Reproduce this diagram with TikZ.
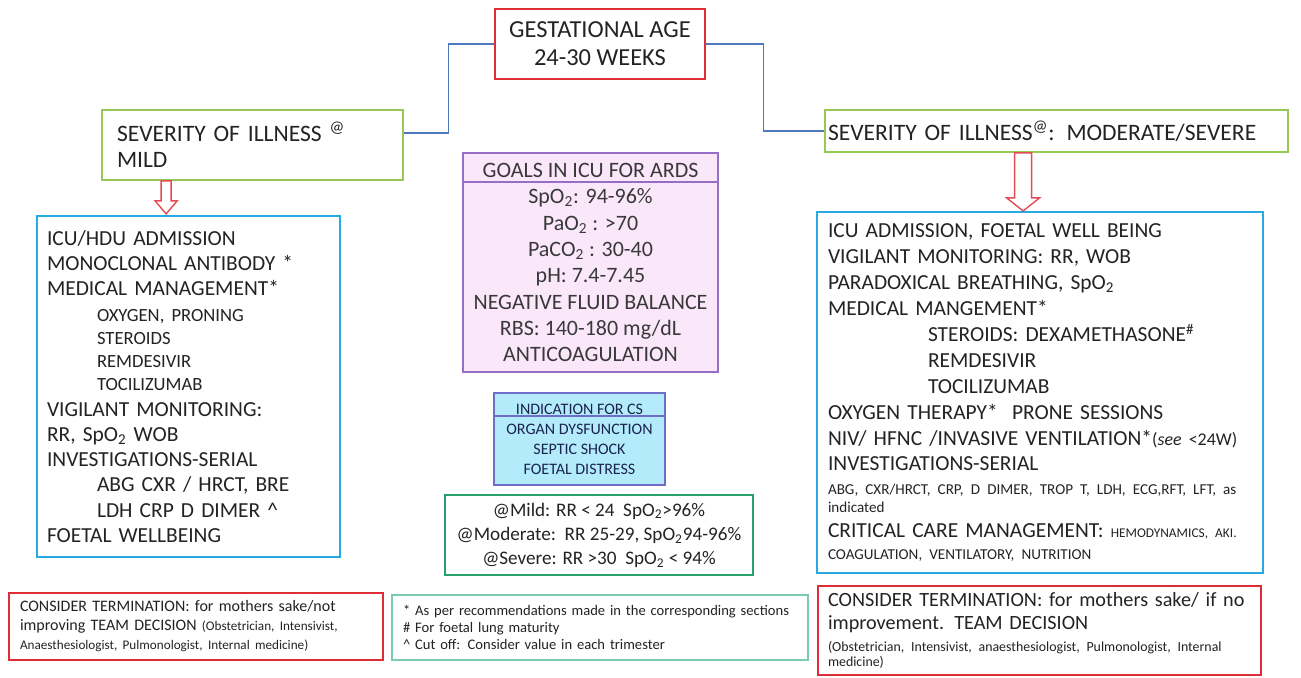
\documentclass[tikz,border=0pt]{standalone}
\usepackage{fontspec}
\setmainfont{Carlito}
\usepackage{tikz}
\usetikzlibrary{positioning, calc}

\definecolor{boxred}{RGB}{222,45,55}
\definecolor{boxlime}{RGB}{150,200,85}
\definecolor{boxblue}{RGB}{40,170,225}
\definecolor{linkblue}{RGB}{80,120,190}
\definecolor{goalfill}{RGB}{250,232,250}
\definecolor{goaldraw}{RGB}{150,110,200}
\definecolor{csfill}{RGB}{180,235,250}
\definecolor{csdraw}{RGB}{110,110,200}
\definecolor{cstext}{RGB}{25,35,80}
\definecolor{keygreen}{RGB}{40,160,110}
\definecolor{notegreen}{RGB}{120,205,170}
\definecolor{txt}{RGB}{35,35,35}

\newcommand{\fsSub}{\fontsize{10.6}{14.4}\selectfont}
\newcommand{\fsSmall}{\fontsize{10.2}{14.8}\selectfont}
\newcommand{\fsTiny}{\fontsize{8.6}{14.8}\selectfont}
\newcommand{\fsCaps}{\fontsize{7.6}{14.8}\selectfont}
\newcommand{\fsNote}{\fontsize{7.5}{10.8}\selectfont}
\newcommand{\fsNoteR}{\fontsize{7.9}{13}\selectfont}

\tikzset{
  titlebox/.style={rectangle, draw=boxred, line width=1.2pt, minimum width=4.2cm, minimum height=1.4cm,
                   align=center, text=txt, font=\fontsize{13.9}{16}\selectfont},
  sevbox/.style={rectangle, draw=boxlime, line width=1pt, align=left, text=txt,
                 font=\fontsize{13.4}{14.8}\selectfont},
  carebox/.style={rectangle, draw=boxblue, line width=1.3pt, align=left, text=txt},
  goalbox/.style={rectangle, draw=goaldraw, fill=goalfill, line width=1pt, minimum width=5.1cm, minimum height=4.38cm,
                  align=center, text=txt!90, font=\fontsize{12.5}{15}\selectfont},
  csbox/.style={rectangle, draw=csdraw, fill=csfill, line width=1pt, minimum width=3.42cm, minimum height=1.84cm,
                align=center, text=cstext, font=\fontsize{9.1}{11.4}\selectfont},
  keybox/.style={rectangle, draw=keygreen, line width=1.2pt, minimum width=6.16cm, minimum height=1.6cm,
                 align=center, text=txt, font=\fontsize{10.9}{13.7}\selectfont},
  termbox/.style={rectangle, draw=boxred, line width=1.2pt, align=left, text=txt},
  notebox/.style={rectangle, draw=notegreen, line width=1.2pt, align=left, text=txt,
                  font=\fontsize{8.3}{9.7}\selectfont},
  conn/.style={draw=linkblue, line width=0.6pt},
  hollow/.style={draw=boxred!85, fill=white, line width=0.8pt, line join=miter}
}

\begin{document}
\begin{tikzpicture}

  \fill[white] (0,0) rectangle (26.02,-13.54);
  \useasboundingbox (0,0) rectangle (26.02,-13.54);

  \node (gest) [titlebox] at (12.0,-0.88) {GESTATIONAL AGE\\24-30 WEEKS};

  \node (mild) [sevbox, minimum width=6.02cm, minimum height=1.4cm, inner xsep=0.3cm, text width=5.42cm]
    at (5.05,-2.9) {SEVERITY OF ILLNESS \textsuperscript{@}\\MILD};
  \node (mod) [sevbox, minimum width=9.26cm, minimum height=0.84cm, inner xsep=0.06cm, text width=9.14cm]
    at (21.13,-2.62) {SEVERITY OF ILLNESS\textsuperscript{@}: MODERATE/SEVERE};

  \node (mildcare) [carebox, minimum width=6.06cm, minimum height=6.82cm, inner xsep=0.2cm, text width=5.66cm,
    font=\fontsize{12.2}{14.4}\selectfont] at (3.77,-7.73) {%
    ICU/HDU ADMISSION\\
    MONOCLONAL ANTIBODY *\\
    MEDICAL MANAGEMENT*\\
    \hspace*{1cm}{\fsSub OXYGEN, PRONING}\\[-1.2pt]
    \hspace*{1cm}{\fsSub STEROIDS}\\[-1.2pt]
    \hspace*{1cm}{\fsSub REMDESIVIR}\\[-1.2pt]
    \hspace*{1cm}{\fsSub TOCILIZUMAB}\\
    VIGILANT MONITORING:\\
    RR, SpO\textsubscript{2} WOB\\
    INVESTIGATIONS-SERIAL\\
    \hspace*{1cm}ABG CXR / HRCT, BRE\\
    \hspace*{1cm}LDH CRP D DIMER \textasciicircum\\
    FOETAL WELLBEING};

  \node (modcare) [carebox, minimum width=8.92cm, minimum height=7.22cm, inner xsep=0.22cm, text width=8.48cm,
    font=\fontsize{12.2}{14.8}\selectfont] at (20.8,-7.85) {%
    ICU ADMISSION, FOETAL WELL BEING\\
    VIGILANT MONITORING: RR, WOB\\
    PARADOXICAL BREATHING, SpO\textsubscript{2}\\
    MEDICAL MANGEMENT*\\
    \hspace*{2cm}STEROIDS: DEXAMETHASONE\textsuperscript{\#}\\
    \hspace*{2cm}REMDESIVIR\\
    \hspace*{2cm}TOCILIZUMAB\\
    OXYGEN THERAPY*\ \ PRONE SESSIONS\\
    NIV/ HFNC /INVASIVE VENTILATION*{\fsSmall(\textit{see} <24W)}\\[-1pt]
    INVESTIGATIONS-SERIAL\\[-1.2pt]
    {\fsTiny ABG, CXR/HRCT, CRP, D DIMER, TROP T, LDH, ECG,RFT, LFT, as}\\[-4.5pt]
    {\fsTiny indicated}\\[-0.5pt]
    CRITICAL CARE MANAGEMENT: {\fsCaps HEMODYNAMICS, AKI.}\\[-2.3pt]
    {\fsTiny COAGULATION, VENTILATORY, NUTRITION}};

  \node (goals) [goalbox] at (11.81,-5.25) {%
    GOALS IN ICU FOR ARDS\\
    SpO\textsubscript{2}: 94-96\%\\
    PaO\textsubscript{2} : >70\\
    PaCO\textsubscript{2} : 30-40\\
    pH: 7.4-7.45\\
    NEGATIVE FLUID BALANCE\\
    RBS: 140-180 mg/dL\\
    ANTICOAGULATION};
  \draw[draw=goaldraw, line width=0.8pt] ([yshift=-0.6cm]goals.north west) -- ([yshift=-0.6cm]goals.north east);

  \node (cs) [csbox] at (11.59,-8.78) {%
    INDICATION FOR CS\\
    ORGAN DYSFUNCTION\\
    SEPTIC SHOCK\\
    FOETAL DISTRESS};
  \draw[draw=csdraw, line width=0.8pt] ([yshift=-0.48cm]cs.north west) -- ([yshift=-0.48cm]cs.north east);

  \node (key) [keybox] at (11.98,-10.7) {%
    @Mild: RR < 24\ \ SpO\textsubscript{2}>96\%\\
    @Moderate:\ \ RR 25-29, SpO\textsubscript{2}94-96\%\\
    @Severe: RR >30\ \ SpO\textsubscript{2} < 94\%};

  \node (termmild) [termbox, minimum width=7.48cm, minimum height=1.34cm, inner xsep=0.22cm, text width=7.04cm,
    font=\fontsize{9.1}{10.8}\selectfont] at (3.92,-12.53) {%
    CONSIDER TERMINATION: for mothers sake/not\\
    improving TEAM DECISION {\fsNote (Obstetrician, Intensivist,}\\
    {\fsNote Anaesthesiologist, Pulmonologist, Internal medicine)}};

  \node (notes) [notebox, minimum width=8.32cm, minimum height=1.3cm, inner xsep=0.22cm, text width=7.88cm]
    at (12.0,-12.55) {%
    * As per recommendations made in the corresponding sections\\
    \# For foetal lung maturity\\
    \textasciicircum\ Cut off: Consider value in each trimester};

  \node (termmod) [termbox, minimum width=8.86cm, minimum height=1.78cm, inner xsep=0.2cm, text width=8.46cm,
    font=\fontsize{11.5}{13}\selectfont] at (20.79,-12.61) {%
    CONSIDER TERMINATION: for mothers sake/ if no\\
    improvement. TEAM DECISION\\[-0.5pt]
    {\fsNoteR (Obstetrician, Intensivist, anaesthesiologist, Pulmonologist, Internal}\\[-4pt]
    {\fsNoteR medicine)}};

  \draw[conn] (gest.west) -- ++(-0.9,0) |- ($(mild.east)+(0,0.24)$);
  \draw[conn] (gest.east) -- ++(1.14,0) |- (mod.west);

  \draw[hollow] ($(mild.south west)+(1.2,0)$) -- ++(0,-0.4) -- ++(-0.12,0) -- ++(0.22,-0.26)
    -- ++(0.22,0.26) -- ++(-0.12,0) -- ++(0,0.4) -- cycle;
  \draw[hollow] ($(mod.south west)+(3.81,0)$) -- ++(0,-0.9) -- ++(-0.16,0) -- ++(0.33,-0.26)
    -- ++(0.33,0.26) -- ++(-0.16,0) -- ++(0,0.9) -- cycle;

\end{tikzpicture}
\end{document}
